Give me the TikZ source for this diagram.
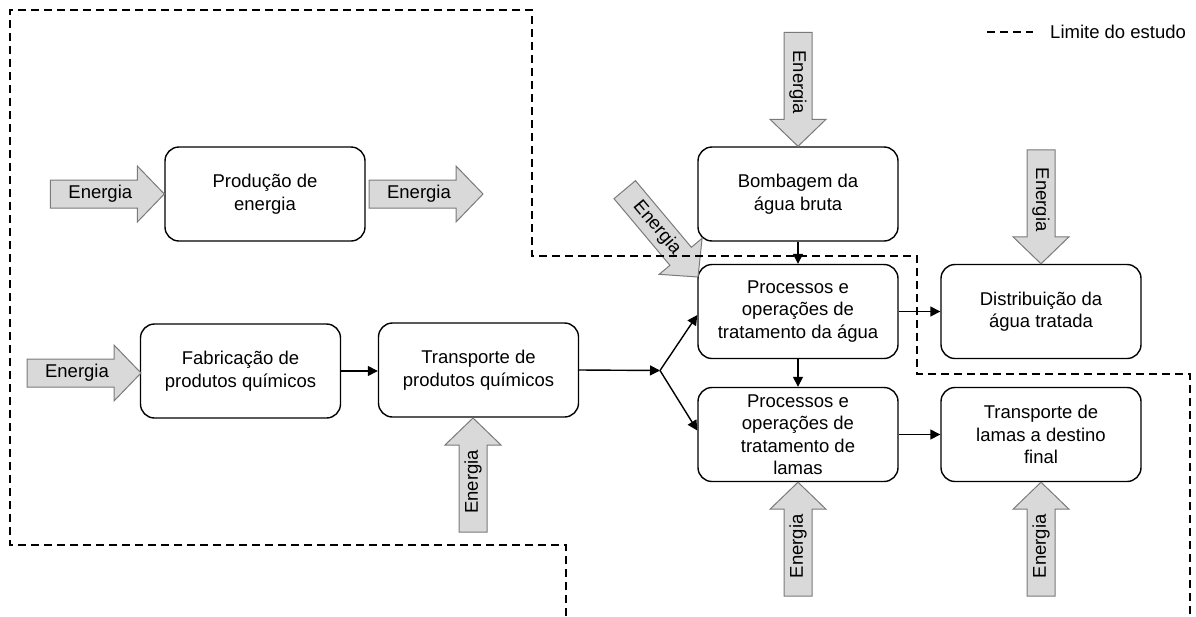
\documentclass[tikz,border=0pt]{standalone}
\usepackage{fontspec}
\setmainfont{Liberation Sans}
\usetikzlibrary{arrows.meta,calc}
\definecolor{arrfill}{HTML}{D9D9D9}
\definecolor{arredge}{HTML}{7A7A7A}
\tikzset{
  txt/.style={font=\fontsize{18.5}{22.5}\selectfont},
  box/.style={txt, draw=black, line width=1.4pt, rounded corners=14pt,
    minimum width=200pt, minimum height=94pt, align=center, inner sep=2pt},
  conn/.style={line width=1.4pt, -{Triangle[length=10pt,width=10pt]}},
  plainline/.style={line width=1.4pt},
  enshape/.style={draw=arredge, fill=arrfill, line width=1pt, line join=miter},
  entext/.style={txt, inner sep=0pt},
  limit/.style={line width=1.3pt, dash pattern=on 8pt off 5pt}
}
\newcommand{\enarrow}[3]{%
  \begin{scope}[shift={#2}, rotate=#3]
    \draw[enshape] (0,0) -- (-27,28) -- (-27,14) -- (-114,14) -- (-114,-14)
      -- (-27,-14) -- (-27,-28) -- cycle;
    \node[entext, transform shape] (#1) at (-64,0) {Energia};
  \end{scope}}
\begin{document}
\begin{tikzpicture}[x=1pt, y=-1pt]
\useasboundingbox (0,0) rectangle (1196,616);

% process boxes
\node[box] (prod)   at (265,194)    {Produção de\\energia};
\node[box] (fab)    at (240.5,371)  {Fabricação de\\produtos químicos};
\node[box] (transp) at (478.5,370)  {Transporte de\\produtos químicos};
\node[box] (bomb)   at (798,194)    {Bombagem da\\água bruta};
\node[box] (proc)   at (798,311.5)  {Processos e\\operações de\\tratamento da água};
\node[box] (dist)   at (1041,311.5) {Distribuição da\\água tratada};
\node[box] (lamas)  at (798,434.5)  {Processos e\\operações de\\tratamento de\\lamas};
\node[box] (tlamas) at (1041,434.5) {Transporte de\\lamas a destino\\final};

% energy block arrows
\enarrow{e1}{(prod.west)}{0}
\enarrow{e2}{(483,194)}{0}
\enarrow{e3}{(141,373)}{0}
\enarrow{e4}{(473,418)}{90}
\enarrow{e5}{(bomb.north)}{-90}
\enarrow{e6}{(dist.north)}{-90}
\enarrow{e7}{(lamas.south)}{90}
\enarrow{e8}{(tlamas.south)}{90}
\enarrow{e9}{(698,277)}{-50}

% connectors
\coordinate (br) at (660,370.5);
\draw[conn] (fab.east) -- (fab.east -| transp.west);
\draw[conn] (transp.east) -- (br);
\draw[conn] (br) -- ([yshift=-3.5pt]proc.west);
\draw[conn] (br) -- ([yshift=4pt]lamas.west);
\draw[conn] (bomb.south) -- (proc.north);
\draw[conn] (proc.south) -- (lamas.north);
\draw[conn] (proc.east) -- (dist.west);
\draw[conn] (lamas.east) -- (tlamas.west);

% study limit
\draw[limit] (566,616) -- (566,545) -- (10,545) -- (10,10) -- (532,10)
  -- (532,256) -- (917,256) -- (917,374) -- (1190,374) -- (1190,616);

% legend
\node[txt, anchor=west, inner sep=0pt] (legend) at (1050,32) {Limite do estudo};
\coordinate (lg1) at (987,32);
\coordinate (lg2) at (1033,32);
\draw[limit] (lg1) -- (lg2);
\end{tikzpicture}
\end{document}
